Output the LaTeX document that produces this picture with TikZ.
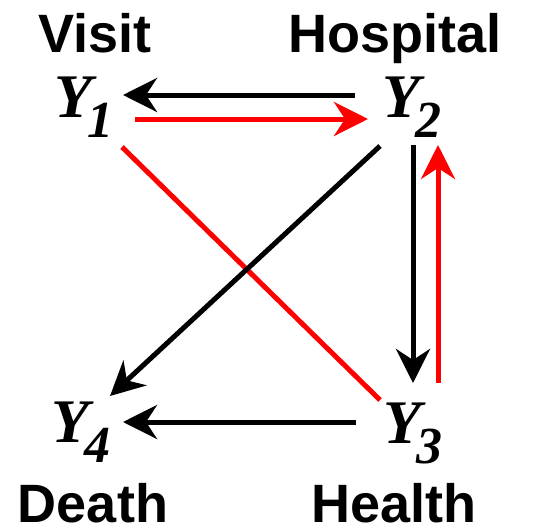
\documentclass[tikz,border=0pt]{standalone}
\usepackage{fontspec}
\setmainfont{Liberation Serif}
\setsansfont{Liberation Sans}
\usetikzlibrary{arrows.meta,calc}
\tikzset{arw/.style={line width=5pt, -{Stealth[length=34pt, width=34pt, inset=11pt]}},
  lnk/.style={line width=5pt},
  var/.style={inner sep=0pt, font=\fontsize{62}{62}\selectfont\bfseries\itshape},
  tag/.style={inner sep=0pt, anchor=base, font=\fontsize{54}{54}\selectfont\sffamily\bfseries}}
\newcommand{\yvar}[1]{Y\kern-5pt\raisebox{-20pt}{\fontsize{52}{52}\selectfont #1}}

\begin{document}
\begin{tikzpicture}[x=1pt, y=-1pt]
  \useasboundingbox (0,0) rectangle (533,528);
  \node[tag] (visit) at (95,52) {Visit};
  \node[tag] (hospital) at (395,52) {Hospital};
  \node[tag] (death) at (93,522) {Death};
  \node[tag] (health) at (394,522) {Health};
  \node[var] (y1) at (84,107) {\yvar{1}};
  \node[var] (y2) at (412,107) {\yvar{2}};
  \node[var] (y3) at (413,433) {\yvar{3}};
  \node[var] (y4) at (81,432) {\yvar{4}};
  \draw[arw] ($(y2)+(-57,-12)$) -- ($(y1)+(39,-12)$);
  \draw[arw, red] ($(y1)+(51,12)$) -- ($(y2)+(-44,12)$);
  \draw[lnk, red] ($(y1)+(38,40)$) -- ($(y3)+(-33,-33)$);
  \draw[arw] ($(y2)+(-32,39)$) -- ($(y4)+(29,-36)$);
  \draw[arw] ($(y2)+(1,38)$) -- ($(y3)+(0,-50)$);
  \draw[arw, red] ($(y3)+(25,-50)$) -- ($(y2)+(26,38)$);
  \draw[arw] ($(y3)+(-57,-11)$) -- ($(y4)+(42,-10)$);
\end{tikzpicture}
\end{document}
